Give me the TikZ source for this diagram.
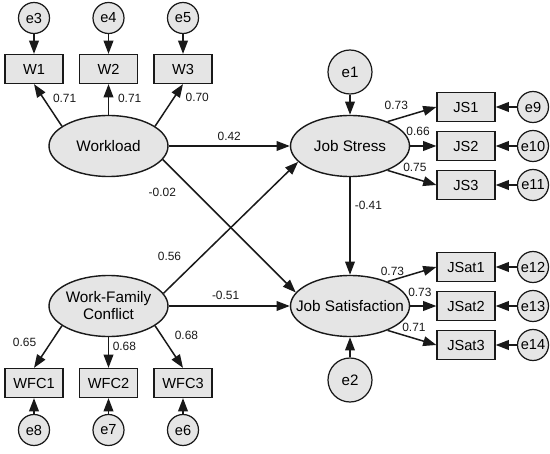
\documentclass[tikz,border=0pt]{standalone}
\usepackage{fontspec}
\setmainfont{Liberation Sans}
\usetikzlibrary{arrows.meta,positioning,shapes.geometric}
\definecolor{semFill}{RGB}{229,229,229}
\definecolor{semLine}{RGB}{25,25,25}

\begin{document}
\begin{tikzpicture}[
  latent/.style={ellipse, draw=semLine, fill=semFill, line width=0.8pt,
                 minimum width=2.38cm, minimum height=1.22cm,
                 inner xsep=-7pt, inner ysep=0pt, align=center,
                 font=\fontsize{8.7}{9.7}\selectfont},
  indicator/.style={rectangle, draw=semLine, fill=semFill, line width=0.7pt,
                    minimum width=1.16cm, minimum height=0.58cm, inner sep=1pt,
                    font=\fontsize{8.3}{9}\selectfont},
  errnode/.style={circle, draw=semLine, fill=semFill, line width=0.7pt,
                  minimum size=0.62cm, inner sep=0pt,
                  font=\fontsize{8.3}{9}\selectfont},
  bigerr/.style={errnode, minimum size=0.88cm, font=\fontsize{8.6}{10}\selectfont},
  arr/.style={-{Triangle[length=7.5pt,width=5.5pt]}, line width=0.85pt, semLine},
  coef/.style={font=\fontsize{6.8}{7}\selectfont, inner sep=0pt},
]
\useasboundingbox (0,0) rectangle (11,9.06);

\def\lx{2.17}  % left column (exogenous)
\def\rx{7.0}   % right column (endogenous)
\def\ty{6.14}  % top row
\def\by{2.94}  % bottom row

% Latent variables
\node[latent] (WL)   at (\lx, \ty) {Workload};
\node[latent] (WFC)  at (\lx, \by) {Work-Family\\Conflict};
\node[latent] (JS)   at (\rx, \ty) {Job Stress};
\node[latent] (JSat) at (\rx, \by) {Job Satisfaction};

% Disturbances
\node[bigerr] (e1) at (\rx, 7.62) {e1};
\node[bigerr] (e2) at (\rx, 1.46) {e2};
\draw[arr] (e1) -- (JS);
\draw[arr] (e2) -- (JSat);

% Workload indicators
\foreach \n/\x/\e in {1/0.68/3, 2/2.17/4, 3/3.66/5}{
  \node[indicator] (W\n) at (\x, 7.68) {W\n};
  \node[errnode] (e\e) at (\x, 8.70) {e\e};
  \draw[arr] (e\e) -- (W\n);
}

% Work-family conflict indicators
\foreach \n/\x/\e in {1/0.68/8, 2/2.17/7, 3/3.66/6}{
  \node[indicator] (WFC\n) at (\x, 1.40) {WFC\n};
  \node[errnode] (e\e) at (\x, 0.46) {e\e};
  \draw[arr] (e\e) -- (WFC\n);
}

% Job stress indicators
\foreach \n/\dy/\e in {1/0.78/9, 2/0/10, 3/-0.78/11}{
  \node[indicator] (JS\n) at (9.32, {\ty+\dy}) {JS\n};
  \node[errnode] (e\e) at (10.66, {\ty+\dy}) {e\e};
  \draw[arr] (e\e) -- (JS\n);
}

% Job satisfaction indicators
\foreach \n/\dy/\e in {1/0.78/12, 2/0/13, 3/-0.78/14}{
  \node[indicator] (JSat\n) at (9.32, {\by+\dy}) {JSat\n};
  \node[errnode] (e\e) at (10.66, {\by+\dy}) {e\e};
  \draw[arr] (e\e) -- (JSat\n);
}

% Loadings
\draw[arr] (WL.157) -- node[coef, pos=0.66, right=5pt] (lW1) {0.71} (W1.south);
\draw[arr] (WL.north) -- node[coef, pos=0.53, right=5pt] (lW2) {0.71} (W2.south);
\draw[arr] (WL.23) -- node[coef, pos=0.69, right=6pt] (lW3) {0.70} (W3.south);

\draw[arr] (WFC.203) -- node[coef, pos=0.39, left=8pt] (lF1) {0.65} (WFC1.north);
\draw[arr] (WFC.south) -- node[coef, pos=0.3, right=2pt] (lF2) {0.68} (WFC2.north);
\draw[arr] (WFC.337) -- node[coef, pos=0.24, right=7pt] (lF3) {0.68} (WFC3.north);

\draw[arr] (JS.33) -- node[coef, pos=0.18, above=5pt] (lS1) {0.73} (JS1.west);
\draw[arr] (JS.east) -- node[coef, pos=0.3, above=5.5pt] (lS2) {0.66} (JS2.west);
\draw[arr] (JS.327) -- node[coef, pos=0.56, above=3.5pt] (lS3) {0.75} (JS3.west);

\draw[arr] (JSat.33) -- node[coef, pos=0.1, above=2pt] (lT1) {0.73} (JSat1.west);
\draw[arr] (JSat.east) -- node[coef, pos=0.37, above=5pt] (lT2) {0.73} (JSat2.west);
\draw[arr] (JSat.327) -- node[coef, pos=0.54, above=3.5pt] (lT3) {0.71} (JSat3.west);

% Structural paths
\draw[arr] (WL.east) -- node[coef, above=2.5pt] (pWS) {0.42} (JS.west);
\draw[arr] (WL.346) -- node[coef, pos=0.25, left=11pt] (pWT) {-0.02} (JSat.166);
\draw[arr] (WFC.13) -- node[coef, pos=0.28, left=11pt] (pFS) {0.56} (JS.197);
\draw[arr] (WFC.east) -- node[coef, pos=0.47, above=3.4pt] (pFT) {-0.51} (JSat.west);
\draw[arr] (JS.south) -- node[coef, pos=0.29, right=2.3pt] (pST) {-0.41} (JSat.north);

\end{tikzpicture}
\end{document}
